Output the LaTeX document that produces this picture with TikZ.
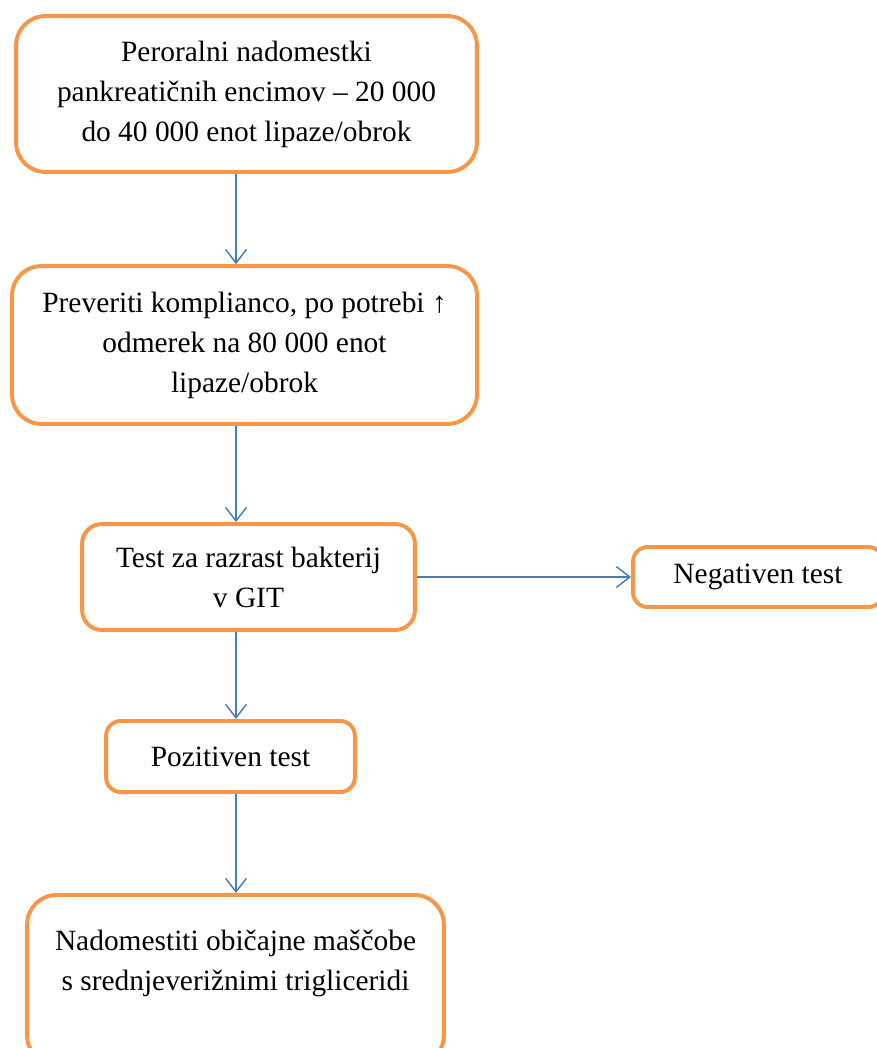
\documentclass[tikz,border=0pt]{standalone}
\usepackage{fontspec}
\setmainfont{Liberation Serif}
\usetikzlibrary{arrows.meta}
\definecolor{boxorange}{HTML}{F79646}
\definecolor{linkblue}{HTML}{4A7EBB}

\begin{document}
\begin{tikzpicture}[x=0.408pt,y=-0.408pt,>={Straight Barb[length=5.5pt,width=8.5pt]},
                    semithick]
\tikzstyle{box}=[draw=boxorange,line width=1.6pt,rounded corners=12pt,align=center,
                 inner sep=0pt,font=\fontsize{12}{16.3}\selectfont]
\tikzstyle{link}=[->,draw=linkblue,line width=0.6pt]
\useasboundingbox (0,0) rectangle (877,1048);
\clip (0,0) rectangle (877,1048);
\coordinate (axis) at (236,0);
\node [box,minimum width=188pt,minimum height=63.6pt] (enzymes) at (246.5,94)
      {Peroralni nadomestki\\pankreatičnih encimov – 20 000\\do 40 000 enot lipaze/obrok};
\node [box,minimum width=189.7pt,minimum height=64.4pt] (compliance) at (244.5,345)
      {Preveriti komplianco, po potrebi ↑\\odmerek na 80 000 enot\\lipaze/obrok};
\node [box,minimum width=135.8pt,minimum height=43.2pt,rounded corners=8pt] (sibo) at (248.5,577)
      {Test za razrast bakterij\\v GIT};
\node [box,minimum width=102pt,minimum height=24.5pt,rounded corners=6pt] (neg) at (758,577)
      {Negativen test};
\node [box,minimum width=101.5pt,minimum height=29pt,rounded corners=6pt] (pos) at (230.5,756.5)
      {Pozitiven test};
\node [box,minimum width=170pt,minimum height=69.4pt] (mct) at (235.5,980)
      {Nadomestiti običajne maščobe\\s srednjeverižnimi trigliceridi\\\mbox{}};

\path[every edge/.style=link]
      (enzymes.south -| axis) edge (compliance.north -| axis)
      (compliance.south -| axis) edge (sibo.north -| axis)
      (sibo.east) edge (neg.west)
      (sibo.south -| axis) edge (pos.north -| axis)
      (pos.south -| axis) edge (mct.north -| axis);

\end{tikzpicture}
\end{document}
